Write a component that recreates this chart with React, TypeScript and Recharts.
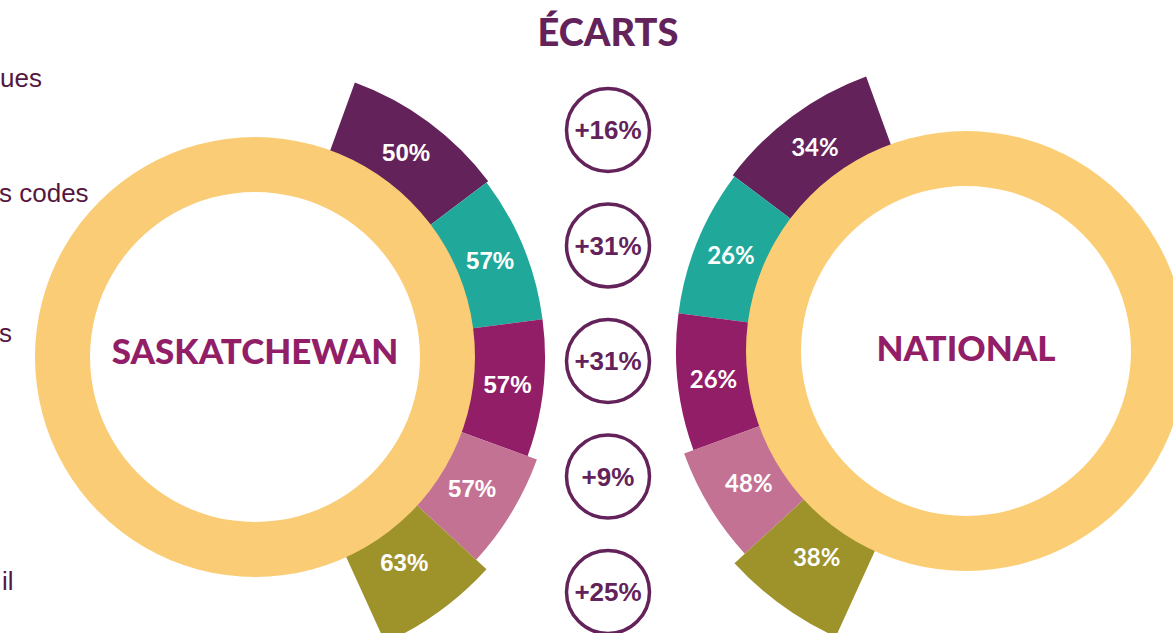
import React from 'react';
import { PieChart, Pie, Sector, Cell } from 'recharts';

// ---------- data ----------
const categoryLabelFragments = ['ues', 's codes', 's', '', 'il'];
const saskatchewanValues = [50, 57, 57, 57, 63];
const nationalValues = [34, 26, 26, 48, 38];
const regionLabels = ['SASKATCHEWAN', 'NATIONAL'];
const gapsTitle = 'ÉCARTS';

// ---------- layout & style ----------
const W = 1173;
const H = 633;
const SEGMENT_COLORS = ['#63235a', '#20a99a', '#921e67', '#c47294', '#9e922b'];
const SEGMENT_SPAN_DEG = [33, 29.5, 27.5, 22.5, 23];
const SEGMENT_REACH = [292, 290, 290, 300, 314];
const FIRST_EDGE_DEG = 20; // measured clockwise from 12 o'clock
const RING_INNER = 165;
const RING_OUTER = 220;
const SEG_INNER = 185;
const LABEL_R = 254;
const SASK = { cx: 255, cy: 357, ring: '#f9cc75' };
const NAT = { cx: 966, cy: 351, ring: '#fbce76' };
const GAP_X = 608;
const GAP_Y0 = 130;
const GAP_STEP = 115.5;
const PURPLE = '#63235a';
const MAGENTA = '#921e67';
const LEFT_LABEL_POS = [
  { x: -1, y: 87 },
  { x: -2, y: 202 },
  { x: -2, y: 342 },
  { x: 0, y: 460 },
  { x: 1, y: 590 },
];

const totalSpan = SEGMENT_SPAN_DEG.reduce((a, b) => a + b, 0);

function buildRows(values: number[]) {
  return values.map((v, i) => ({
    name: categoryLabelFragments[i] || `c${i}`,
    pct: v,
    span: SEGMENT_SPAN_DEG[i],
    idx: i,
  }));
}

const saskRows = buildRows(saskatchewanValues);
const natRows = buildRows(nationalValues);
const ringRow = [{ name: 'ring', value: 1 }];
const gaps = saskatchewanValues.map((v, i) => v - nationalValues[i]);

const RAD = Math.PI / 180;

const segmentShape = (p: any) => {
  const i = p?.payload?.idx ?? p?.idx ?? p?.index ?? 0;
  return (
    <Sector
      cx={p.cx}
      cy={p.cy}
      innerRadius={p.innerRadius}
      outerRadius={SEGMENT_REACH[i]}
      startAngle={p.startAngle}
      endAngle={p.endAngle}
      fill={SEGMENT_COLORS[i]}
      stroke="none"
    />
  );
};

const makeLabel = (center: { cx: number; cy: number }, font: string) => (p: any) => {
  const a = p.midAngle;
  const cx = typeof p.cx === 'number' ? p.cx : center.cx;
  const cy = typeof p.cy === 'number' ? p.cy : center.cy;
  const x = cx + LABEL_R * Math.cos(-a * RAD);
  const y = cy + LABEL_R * Math.sin(-a * RAD);
  const pct = p?.payload?.pct ?? p.pct;
  return (
    <text
      x={x}
      y={y}
      fill="#ffffff"
      textAnchor="middle"
      dominantBaseline="central"
      fontFamily={font}
      fontWeight={700}
      fontSize={24}
    >
      {pct}%
    </text>
  );
};

export default function App() {
  const saskStart = 90 - FIRST_EDGE_DEG;
  const natStart = 90 + FIRST_EDGE_DEG;
  return (
    <div
      style={{
        position: 'absolute',
        left: 0,
        top: 0,
        width: W,
        height: H,
        overflow: 'hidden',
        background: '#ffffff',
      }}
    >
      <PieChart width={W} height={H} margin={{ top: 0, right: 0, bottom: 0, left: 0 }}>
        <Pie
          data={saskRows}
          dataKey="span"
          nameKey="name"
          cx={SASK.cx}
          cy={SASK.cy}
          innerRadius={SEG_INNER}
          outerRadius={292}
          startAngle={saskStart}
          endAngle={saskStart - totalSpan}
          stroke="none"
          isAnimationActive={false}
          shape={segmentShape}
          label={makeLabel(SASK, '"Liberation Sans", Arial, sans-serif')}
          labelLine={false}
        >
          {saskRows.map((r) => (
            <Cell key={r.idx} fill={SEGMENT_COLORS[r.idx]} />
          ))}
        </Pie>
        <Pie
          data={natRows}
          dataKey="span"
          nameKey="name"
          cx={NAT.cx}
          cy={NAT.cy}
          innerRadius={SEG_INNER}
          outerRadius={292}
          startAngle={natStart}
          endAngle={natStart + totalSpan}
          stroke="none"
          isAnimationActive={false}
          shape={segmentShape}
          label={makeLabel(NAT, 'Lato, "Open Sans", sans-serif')}
          labelLine={false}
        >
          {natRows.map((r) => (
            <Cell key={r.idx} fill={SEGMENT_COLORS[r.idx]} />
          ))}
        </Pie>
        <Pie
          data={ringRow}
          dataKey="value"
          cx={SASK.cx}
          cy={SASK.cy}
          innerRadius={RING_INNER}
          outerRadius={RING_OUTER}
          startAngle={90}
          endAngle={-270}
          fill={SASK.ring}
          stroke="none"
          isAnimationActive={false}
        />
        <Pie
          data={ringRow}
          dataKey="value"
          cx={NAT.cx}
          cy={NAT.cy}
          innerRadius={RING_INNER}
          outerRadius={RING_OUTER}
          startAngle={90}
          endAngle={-270}
          fill={NAT.ring}
          stroke="none"
          isAnimationActive={false}
        />
      </PieChart>
      <svg
        width={W}
        height={H}
        style={{ position: 'absolute', left: 0, top: 0, pointerEvents: 'none' }}
      >
        <text
          x={GAP_X}
          y={46}
          textAnchor="middle"
          fill={PURPLE}
          fontFamily="Lato, sans-serif"
          fontWeight={900}
          fontSize={38}
        >
          {gapsTitle}
        </text>
        <text
          x={SASK.cx}
          y={SASK.cy + 7}
          textAnchor="middle"
          fill={MAGENTA}
          fontFamily="Lato, sans-serif"
          fontWeight={900}
          fontSize={35}
        >
          {regionLabels[0]}
        </text>
        <text
          x={NAT.cx}
          y={NAT.cy + 10}
          textAnchor="middle"
          fill={MAGENTA}
          fontFamily="Lato, sans-serif"
          fontWeight={900}
          fontSize={35}
        >
          {regionLabels[1]}
        </text>
        {gaps.map((g, i) => (
          <g key={i}>
            <circle
              cx={GAP_X}
              cy={GAP_Y0 + i * GAP_STEP}
              r={41.5}
              fill="#ffffff"
              stroke={PURPLE}
              strokeWidth={3.5}
            />
            <text
              x={GAP_X}
              y={GAP_Y0 + i * GAP_STEP + 9}
              textAnchor="middle"
              fill={PURPLE}
              fontFamily='"Liberation Sans", Arial, sans-serif'
              fontWeight={700}
              fontSize={26}
            >
              {g >= 0 ? `+${g}%` : `${g}%`}
            </text>
          </g>
        ))}
        {categoryLabelFragments.map((t, i) =>
          t ? (
            <text
              key={i}
              x={LEFT_LABEL_POS[i].x + 1}
              y={LEFT_LABEL_POS[i].y}
              textAnchor="start"
              fill="#55173f"
              fontFamily='"Liberation Sans", Arial, sans-serif'
              fontSize={26}
            >
              {t}
            </text>
          ) : null
        )}
      </svg>
    </div>
  );
}
